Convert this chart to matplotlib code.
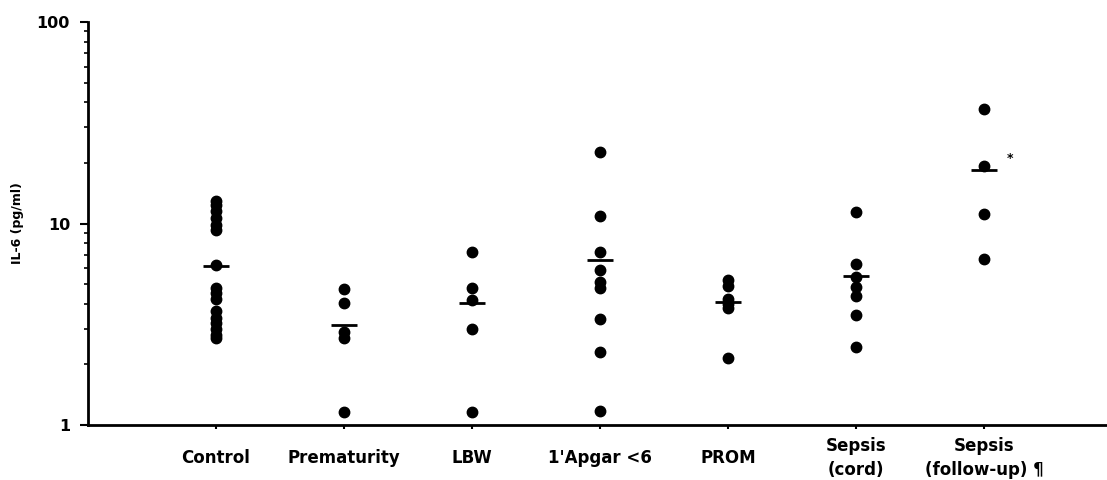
import numpy as np
import matplotlib.pyplot as plt

plt.rcParams['font.family'] = ['DejaVu Sans']
plt.rcParams['font.weight'] = 'bold'

# group labels and IL-6 values (pg/ml)
groups = ["Control", "Prematurity", "LBW", "1'Apgar <6", "PROM",
          "Sepsis\n(cord)", "Sepsis\n(follow-up) \u00b6"]

control = [13.0, 12.3, 11.5, 10.6, 9.8, 9.3, 6.2, 4.8, 4.5, 4.2, 3.7, 3.4, 3.2, 3.0, 2.8, 2.7]
prematurity = [4.73, 4.05, 2.9, 2.7, 1.16]
lbw = [7.2, 4.8, 4.15, 3.0, 1.16]
apgar = [22.6, 10.9, 7.2, 5.9, 5.15, 4.8, 3.35, 2.3, 1.17]
prom = [5.25, 4.9, 4.2, 4.0, 3.8, 2.15]
sepsis_cord = [11.4, 6.3, 5.45, 4.85, 4.35, 3.5, 2.45]
sepsis_fu = [36.9, 19.2, 11.2, 6.7]

values = [control, prematurity, lbw, apgar, prom, sepsis_cord, sepsis_fu]
medians = [6.15, 3.13, 4.02, 6.6, 4.06, 5.5, 18.4]

fig = plt.figure(figsize=(11.07, 4.8), dpi=100)
ax = fig.add_axes([0.0795, 0.1146, 0.9205, 0.8394])

for i, vals in enumerate(values):
    ax.plot([i] * len(vals), vals, 'o', color='black', ms=7.5, mec='black')
    ax.hlines(medians[i], i - 0.1, i + 0.1, color='black', lw=2)

ax.text(6.2, 21.0, '*', fontsize=9, ha='center', va='center')

ax.set_yscale('log')
ax.set_ylim(1, 100)
ax.set_xlim(-1, 6.96)
ax.set_yticks([1, 10, 100])
ax.set_yticklabels(['1', '10', '100'], fontsize=11.5, fontweight='bold')
ax.set_xticks(range(len(groups)))
ax.set_xticklabels(groups, fontsize=12, fontweight='bold', linespacing=1.45)
for lab in ax.get_xticklabels():
    lab.set_va('center')

ax.tick_params(axis='y', which='major', direction='out', length=6, width=1.5, pad=7)
ax.tick_params(axis='y', which='minor', direction='out', length=3, width=1.2)
ax.tick_params(axis='x', direction='out', length=3, width=1.5, pad=21)

for s in ['top', 'right']:
    ax.spines[s].set_visible(False)
for s in ['left', 'bottom']:
    ax.spines[s].set_linewidth(2)

ax.set_ylabel('IL-6 (pg/ml)', fontsize=9, fontweight='bold')
ax.yaxis.set_label_coords(-0.063, 0.5)

fig.savefig('out.png', dpi=100)
